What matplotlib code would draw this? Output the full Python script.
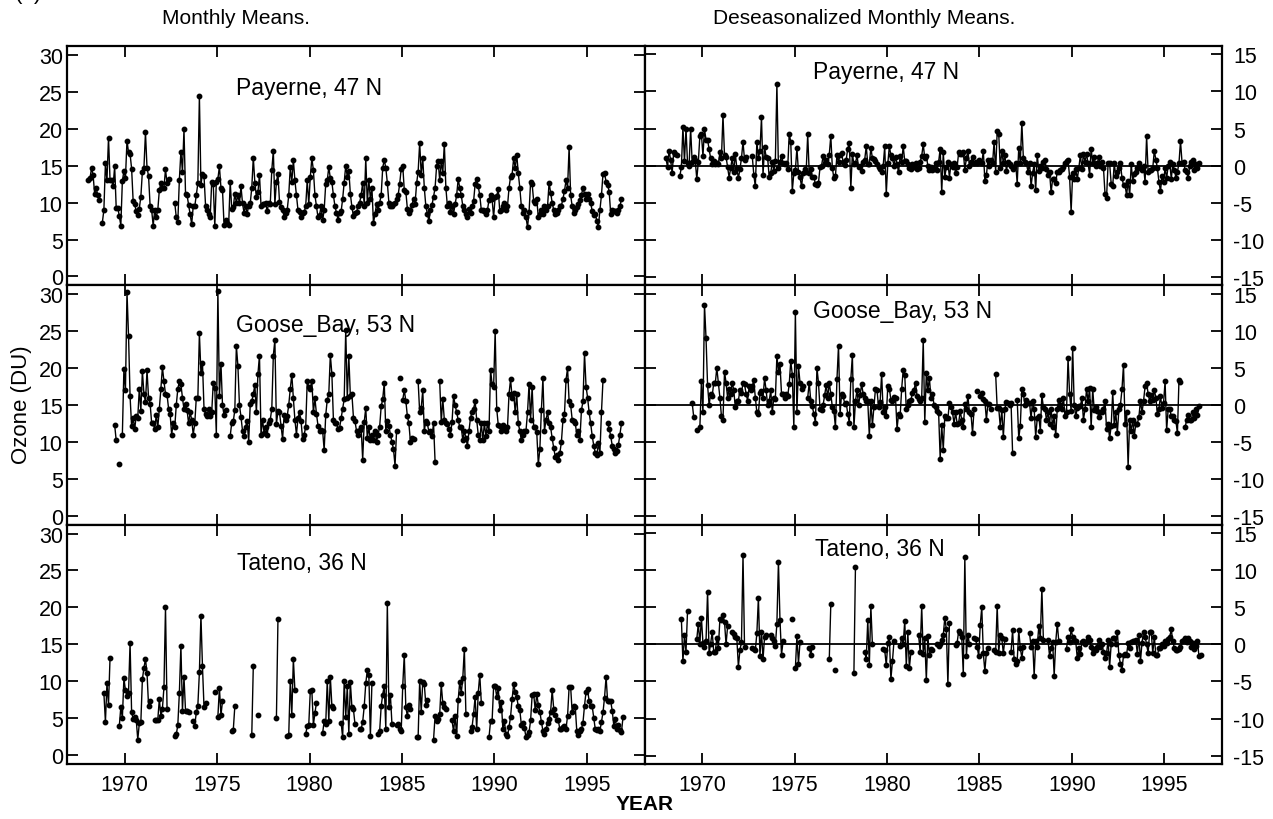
import numpy as np
import matplotlib
matplotlib.use('Agg')
import matplotlib.pyplot as plt

na = np.nan

# ---- monthly total ozone (DU), one row per year, Jan..Dec ----
payerne_first = 1968
payerne_mm = [
    [13.0, 13.3, 14.7, 13.7, 11.2, 12.0, 11.0, 10.4, na, 7.3, 9.0, 15.3],
    [13.0, 18.8, 13.0, 13.0, 12.3, 14.9, 9.3, 9.3, 8.2, 6.9, 12.9, 14.3],
    [13.3, 18.4, 16.8, 16.6, 14.6, 10.2, 9.8, 8.8, 8.3, 9.2, 10.8, 14.2],
    [14.7, 19.5, 14.7, 13.6, 9.6, 9.0, 6.9, 9.0, 8.0, 9.0, 11.7, 12.6],
    [12.0, 12.0, 14.5, 12.6, 13.2, na, na, na, 10.0, 8.0, 7.4, 13.1],
    [16.9, 14.2, 19.9, 11.2, 11.0, 9.7, 8.4, 7.1, 9.5, 9.5, 11.0, 12.6],
    [24.4, 12.4, 13.9, 13.6, 9.6, 9.0, 8.4, 8.0, 12.8, 12.5, 6.8, 12.8],
    [13.2, 14.9, 12.0, 11.7, 7.0, 7.6, 7.3, 7.0, 12.8, 9.2, 9.4, 11.2],
    [10.0, 11.0, 9.9, 12.2, 9.9, 8.6, 9.6, 8.5, 9.6, 9.9, 12.0, 16.1],
    [12.7, 10.8, 11.4, 13.8, 9.6, 9.8, 9.8, 10.0, 8.8, 10.0, 9.8, 14.4],
    [17.0, 9.8, 12.8, 13.9, 10.1, 9.4, 9.0, 8.1, 8.6, 9.0, 11.0, 14.8],
    [12.8, 15.8, 13.0, 11.0, 9.0, 8.7, 8.0, 8.6, 8.7, 9.5, 13.0, 9.8],
    [13.5, 16.0, 14.4, 11.0, 9.5, 8.0, 8.3, 9.5, 7.6, 9.0, 12.5, 13.0],
    [14.8, 13.3, 12.8, 11.0, 9.5, 8.6, 7.7, 8.6, 8.8, 10.5, 12.7, 15.0],
    [13.5, 14.3, 11.2, 9.4, 8.2, 8.6, 8.7, 9.5, 10.0, 11.0, 12.7, 9.6],
    [16.0, 10.0, 13.0, 10.5, 12.0, 7.2, 8.5, 9.8, 9.0, 10.0, 11.0, 14.7],
    [15.8, 14.7, 12.7, 10.0, 9.5, 9.6, 9.8, 9.9, 10.5, 11.0, 12.5, 14.6],
    [15.0, 11.7, 11.5, 9.2, 8.6, 9.0, 9.7, 10.5, 9.8, 12.6, 14.2, 18.1],
    [13.8, 16.0, 12.0, 9.5, 8.5, 7.5, 9.0, 9.7, 10.8, 12.0, 15.0, 15.6],
    [13.0, 15.6, 14.0, 18.0, 12.0, 9.5, 10.0, 8.7, 9.6, 8.5, 9.8, 11.0],
    [13.2, 12.0, 11.0, 9.5, 9.0, 8.5, 8.0, 9.1, 8.6, 9.5, 10.2, 12.5],
    [13.2, 12.2, 11.0, 9.0, 9.0, 8.9, 8.5, 9.0, 10.4, 11.0, 10.5, 8.0],
    [10.8, 10.9, 11.8, 8.8, 9.0, 9.6, 10.0, 9.0, 9.5, 12.0, 13.5, 13.8],
    [16.0, 14.7, 16.5, 14.0, 12.0, 9.5, 8.6, 9.0, 8.0, 6.7, 8.7, 12.8],
    [12.5, 10.2, 9.9, 10.5, 8.0, 8.5, 9.0, 8.5, 9.6, 9.0, 9.5, 12.7],
    [11.3, 10.0, 9.0, 8.5, 8.6, 9.0, 9.5, 9.6, 10.5, 11.6, 13.0, 12.0],
    [17.5, 11.0, 9.5, 8.6, 9.0, 9.4, 9.8, 10.4, 11.0, 12.0, 11.2, 10.5],
    [11.2, 10.5, 10.0, 8.8, 8.3, 8.5, 7.5, 6.7, 9.0, 11.0, 13.9, 14.0],
    [12.8, 12.4, 11.5, 8.5, 9.0, 8.8, 8.8, 8.6, 9.0, 9.5, 10.5, na],
]
payerne_ds = [
    [1.0, -0.2, 2.0, 0.8, -1.0, 1.8, 1.6, 1.5, na, -1.4, -0.2, 5.2],
    [0.6, 5.0, 0.3, 0.0, 5.0, 0.5, 1.2, 0.7, -1.8, 0.5, 4.0, 4.3],
    [1.3, 4.9, 3.5, 3.5, 2.2, 1.0, 0.2, 0.6, 0.2, 0.4, 0.2, 1.8],
    [1.0, 6.8, 1.4, 1.2, -0.2, -1.6, -0.3, 1.0, -0.8, 1.6, -0.3, -1.7],
    [-0.5, 1.0, 3.2, 0.8, 1.2, na, na, na, 1.3, -1.2, -2.8, 3.2],
    [1.0, 2.0, 6.5, -1.2, 2.5, 1.2, 1.0, -1.5, -1.0, 0.5, -0.7, 0.6],
    [11.0, -0.3, 0.5, 1.3, 0.3, 0.2, 0.4, -0.4, 4.3, 3.2, -3.4, -1.0],
    [-0.6, 2.4, -0.9, -1.5, -2.8, -1.0, -0.5, -0.8, 4.2, -1.0, -0.5, -1.5],
    [-1.5, -2.5, -2.6, -2.3, -0.2, 0.0, 1.3, 0.3, 0.8, 0.2, 1.5, 4.0],
    [-0.3, -1.7, -1.4, 1.5, 0.5, 1.5, 1.7, 0.5, 0.1, 0.8, 2.3, 3.0],
    [-3.0, 1.6, 0.2, 0.3, 1.4, -0.2, 0.0, -0.7, 0.5, 0.8, 2.6, 0.2],
    [0.2, 2.4, 1.0, 0.9, 0.6, 0.2, -0.2, -0.4, -0.8, 0.0, 2.6, -3.8],
    [0.3, 2.6, 1.4, 1.0, 0.0, 1.2, 0.2, -0.9, 1.3, 0.5, 2.6, 0.6],
    [0.6, 0.2, -0.3, -0.5, 0.2, -0.2, 0.3, -0.5, -0.3, 0.5, 1.3, 2.9],
    [1.0, 1.3, 0.0, -0.6, -0.2, -0.6, -0.4, 0.4, -0.6, 0.5, 2.3, -3.6],
    [1.8, -1.5, -0.2, 0.5, -1.6, 0.2, -0.2, 0.3, -1.0, -0.2, 1.8, 1.6],
    [1.6, 1.9, -0.6, 1.0, 2.0, 0.0, 0.5, 1.2, 0.3, 0.5, 0.3, 0.8],
    [0.5, 0.3, 2.0, -2.0, -1.3, 0.8, 0.0, 0.8, 0.3, 3.2, -0.8, 4.6],
    [4.3, -0.3, 2.0, 0.3, 1.5, -0.7, 0.5, 0.2, 0.0, -0.5, -0.2, 0.3],
    [-2.4, 2.4, 0.4, 5.8, 1.0, 0.5, 0.3, -0.8, 0.4, -2.8, -1.0, 0.2],
    [-3.3, 1.5, -0.7, 0.0, -0.3, 0.5, 0.7, -0.5, -1.3, -0.8, -3.6, -1.8],
    [-1.8, -2.3, -0.8, -0.8, -0.6, -0.4, -0.2, 0.3, 0.6, 0.8, -1.5, -6.2],
    [-1.0, -1.8, -0.5, -1.8, -0.3, 1.4, -0.4, 1.6, 0.5, 1.6, 0.3, -1.2],
    [2.3, 0.3, 1.2, 0.0, 0.3, 1.2, 0.0, 0.5, -0.3, -3.8, -4.3, 0.3],
    [0.3, -2.4, -2.7, 0.3, -1.4, -0.8, -0.3, 0.3, -1.6, -2.6, -2.6, -4.0],
    [-2.0, -4.0, 0.2, -2.0, -1.1, -0.8, -0.3, 0.3, -0.3, -0.6, 0.0, -2.2],
    [4.0, -0.9, -0.6, -0.6, -0.3, 2.0, 0.8, -0.3, -2.2, -3.4, -1.4, -2.2],
    [-0.3, -1.7, 0.0, 0.5, -1.8, 0.2, -0.6, -1.6, -0.8, 0.3, 3.3, 0.4],
    [0.5, -0.6, -0.8, -1.6, 0.0, 0.5, 0.8, -0.6, 0.2, -0.3, 0.4, na],
]

goose_first = 1969
goose_mm = [
    [na, na, na, na, na, 12.3, 10.2, na, 7.0, na, 11.0, 19.9],
    [17.0, 30.3, 24.4, 16.2, 12.1, 13.2, 11.8, 13.5, 13.3, 17.2, 14.2, 19.6],
    [16.5, 15.4, 19.7, 16.0, 15.2, 12.6, 12.5, 11.8, 13.6, 12.0, 14.5, 17.2],
    [20.1, 18.2, 16.5, 16.4, 14.5, 13.8, 11.0, 12.5, 12.0, 15.0, 17.2, 18.2],
    [17.8, 16.0, 14.4, 15.2, 14.3, 12.5, 14.0, 13.0, 11.0, 12.5, 16.0, 15.9],
    [24.7, 19.3, 20.7, 14.5, 13.8, 13.5, 14.5, 13.5, 14.0, 18.0, 17.3, 11.0],
    [30.5, 16.2, 20.6, 15.0, 13.6, 14.3, na, na, 10.8, 12.6, 12.8, 14.3],
    [23.0, 20.3, 15.0, 13.4, 11.5, 10.8, 12.0, 12.9, 10.0, 15.1, 15.5, 16.5],
    [17.7, 14.0, 19.2, 21.7, 11.0, 13.0, 11.2, 12.0, 11.0, 12.5, 13.0, 14.5],
    [21.7, 23.8, 12.4, 14.2, 14.0, 12.2, 10.4, 13.6, 13.0, 13.5, 15.0, 17.2],
    [19.1, 15.9, 13.0, 11.0, 13.2, 14.0, 12.8, 10.4, 11.0, 12.0, 18.2, 17.5],
    [17.2, 18.3, 14.0, 15.9, 13.8, 12.2, 11.5, 11.6, 11.5, 8.9, 13.6, 15.7],
    [16.5, 21.8, 19.2, 13.0, 12.5, 12.5, 11.8, 11.9, 13.2, 14.5, 15.8, 25.2],
    [16.0, 21.6, 16.2, 16.5, 13.3, 12.8, 11.5, 11.0, 11.6, 12.0, 7.6, 12.7],
    [14.6, 10.5, 12.0, 10.2, 11.0, 10.3, 11.5, 10.0, 11.0, 12.0, 14.8, 15.8],
    [18.0, 11.5, 12.8, 12.2, 11.0, 10.0, 9.0, 6.8, 11.5, na, 18.7, na],
    [15.7, 17.0, 15.6, 13.5, 12.5, 10.0, 10.5, 10.4, na, na, 18.2, 14.0],
    [14.6, 17.0, 11.5, 12.8, 12.5, 11.3, 11.5, 10.8, 12.5, 7.3, na, na],
    [18.2, 12.7, 15.8, 13.0, 12.5, 12.4, 11.8, 11.0, 12.7, 16.2, 15.0, 14.0],
    [13.0, 12.0, 12.0, 10.2, 11.5, 10.5, 9.5, 11.5, 13.3, 14.0, 14.5, 15.5],
    [13.0, 11.0, 10.3, 12.5, 10.3, 12.5, 10.8, 12.5, 11.5, 19.8, 17.8, 17.5],
    [25.0, 14.5, 12.3, 12.2, 11.5, 12.3, 11.8, 11.5, 12.0, 16.5, 18.5, 16.0],
    [16.6, 14.0, 16.5, 12.5, 11.5, 10.2, 11.0, 11.5, 11.5, 14.0, 17.8, 13.0],
    [17.5, 12.0, 12.0, 11.3, 7.0, 9.0, 14.3, 18.6, 11.5, 13.0, 14.0, 12.5],
    [12.0, 10.5, 9.2, 8.0, 8.2, 7.6, 8.5, 10.0, 13.0, 13.8, 18.4, 20.0],
    [15.5, 15.0, 13.0, 12.8, 12.5, 11.0, 11.5, 10.3, 14.3, 15.5, 22.0, 17.5],
    [16.0, 14.0, 12.5, 10.8, 9.5, 8.5, 8.2, 9.8, 8.5, 14.0, 18.4, na],
    [na, 12.6, 11.8, 10.8, 9.5, 9.0, 8.5, 8.8, 9.6, 11.0, 12.5, na],
]
goose_ds = [
    [na, na, na, na, na, 0.3, -1.6, na, -3.4, na, -3.0, 3.2],
    [-1.0, 13.5, 9.0, 2.7, 0.0, 1.5, 1.2, 3.0, 2.9, 5.0, 3.0, 1.0],
    [-1.5, -2.0, 4.5, 3.0, 1.0, 2.2, 1.5, 3.0, 2.0, -0.3, 0.5, 0.6],
    [2.0, 1.6, 3.0, 2.8, 1.5, 0.6, 2.5, 2.0, 2.5, 3.3, 1.0, -1.0],
    [-1.2, 1.6, 1.9, 1.0, 3.6, 2.0, 0.0, 0.5, 2.0, -1.0, 1.0, 0.8],
    [6.6, 4.5, 5.5, 1.5, 1.5, 1.0, 1.5, 1.2, 2.8, 5.9, 4.1, -3.0],
    [12.5, -1.0, 5.3, 3.0, 2.2, 2.6, na, na, 1.0, 3.0, 0.5, -0.2],
    [-1.2, -2.4, 5.0, 3.0, -0.5, -0.7, 0.0, 1.3, 2.7, 1.0, 3.0, 1.5],
    [-0.3, -0.8, -3.0, 3.5, 8.0, -1.2, 1.5, 1.2, 0.2, 0.3, -1.2, -2.4],
    [3.5, 6.7, -3.0, 0.5, 2.0, 0.0, 1.3, 2.8, 1.5, 1.0, 0.6, 0.5],
    [-4.2, 0.5, -2.7, -0.3, 2.2, 2.0, -0.3, 0.4, 4.2, -1.0, -0.3, -1.5],
    [2.5, 2.2, 0.7, 0.5, 1.1, 1.0, -3.2, -1.2, -1.5, 2.2, 4.7, 4.0],
    [-0.6, 0.0, 0.5, 0.7, 1.6, 2.0, 3.0, 1.2, 0.8, 0.5, 1.0, 8.7],
    [-2.3, 4.3, 2.0, 3.6, 1.0, 1.5, 0.0, -0.3, -0.8, -1.1, -7.2, -2.7],
    [-6.0, -1.5, -1.8, -1.8, 0.3, -0.3, -1.0, -2.5, -1.0, -2.5, -2.4, -0.8],
    [-2.0, -3.0, 0.1, -0.5, 1.2, -1.0, -1.2, -3.8, -0.5, na, 1.9, na],
    [1.2, 1.6, 0.8, 0.6, -2.0, 0.2, 0.2, -0.5, na, na, 4.2, -0.4],
    [-0.4, -2.9, -0.7, -4.3, -0.5, 0.4, 0.3, 0.0, 0.3, -6.4, na, na],
    [0.7, -4.5, -2.8, 2.2, 1.5, 0.0, 0.7, 0.3, 0.3, -1.8, 0.5, -0.5],
    [-4.3, -1.8, -1.5, -3.5, 1.3, -0.3, -0.5, -2.0, -1.0, -2.5, -0.5, -3.0],
    [-1.5, -4.1, -0.5, 0.7, 0.0, -0.5, 1.0, -1.5, -1.0, 6.3, 1.5, -0.8],
    [7.7, 0.0, -1.5, -0.4, -0.2, -0.2, 1.0, -2.0, -0.6, 2.2, 0.5, 2.3],
    [-3.0, 2.2, -0.7, -0.3, -0.8, -1.6, -1.0, -1.0, -0.5, 0.5, -3.2, -2.5],
    [-4.5, -2.8, 1.7, -2.7, -1.0, -3.8, -0.6, 0.0, 2.1, 5.4, -2.5, -1.0],
    [-8.3, -2.0, -3.5, -2.0, -4.2, -2.5, -2.5, -1.6, 0.6, -1.0, 0.5, 2.5],
    [3.0, 1.5, 0.5, 1.3, 0.7, 2.0, 1.0, -1.2, -0.5, 1.2, -0.4, 0.3],
    [3.2, -3.4, -0.5, -0.5, -1.5, -1.5, -2.0, -2.1, -3.8, 3.3, 3.1, na],
    [na, -3.0, -2.0, -1.3, -2.0, -2.0, -1.0, -1.8, -0.5, -1.4, -0.2, na],
]

tateno_first = 1968
tateno_mm = [
    [na, na, na, na, na, na, na, na, na, na, 8.4, 4.5],
    [9.7, 6.8, 13.2, na, na, na, na, na, 3.9, 6.5, 5.0, 10.4],
    [8.8, 8.0, 8.4, 15.2, 5.8, 4.9, 5.1, 4.8, 2.1, 4.3, 4.5, 10.3],
    [11.8, 13.0, 11.1, 6.7, 7.3, na, na, 4.8, 4.7, 4.8, 7.6, 5.3],
    [6.3, 9.2, 20.0, 6.3, na, na, na, na, 2.6, 2.8, 4.1, 8.4],
    [14.8, 6.0, 10.6, 6.0, 6.0, 5.9, na, na, 4.6, 4.0, 5.8, 6.7],
    [11.2, 18.9, 12.0, 6.5, 7.1, na, na, na, na, na, 8.5, na],
    [5.2, 9.1, 5.4, 7.3, na, na, na, na, na, 3.3, 3.4, 6.6],
    [na, na, na, na, na, na, na, na, na, na, 2.7, 12.1],
    [na, na, 5.4, na, na, na, na, na, na, na, na, na],
    [na, na, 5.0, 18.4, na, na, na, na, na, 2.6, 2.7, 10.1],
    [5.5, 13.0, 8.8, na, na, na, na, na, na, 2.8, 4.0, 4.1],
    [8.7, 8.8, 4.1, 5.7, 7.1, na, na, na, 3.0, 4.6, 4.2, 10.0],
    [4.6, 10.6, 6.7, 6.4, na, na, na, na, 4.4, 2.4, 10.0, 5.2],
    [9.3, 2.9, 9.9, 6.5, 6.2, 4.2, na, na, 3.5, 3.5, 4.5, 6.6],
    [9.7, 11.5, 10.8, 2.6, 9.8, na, na, na, 2.8, 3.2, 6.6, 8.2],
    [9.4, 3.6, 20.6, 6.5, 8.1, 4.2, na, na, 4.1, 4.2, 3.6, 3.2],
    [9.4, 13.6, 6.5, 5.3, 6.8, 6.3, na, na, na, 2.4, 2.5, 10.1],
    [5.8, 9.9, 9.6, 6.8, 7.5, na, na, na, 2.1, 5.3, 4.6, 4.9],
    [5.6, 9.6, 7.0, 6.5, 6.2, na, na, na, 4.7, 3.2, 5.3, 2.6],
    [7.5, 9.9, 8.4, 10.5, 14.4, 5.6, na, na, 3.2, 3.8, 5.6, 7.9],
    [3.5, 8.4, 10.9, 7.1, na, na, na, na, 2.4, 4.6, 4.6, 9.3],
    [9.4, 7.9, 9.1, 6.1, 7.2, 3.5, 4.6, 2.8, 2.6, 3.8, 5.2, 7.6],
    [9.6, 8.6, 7.9, 6.6, 6.1, 4.1, 4.3, 3.7, 2.4, 2.7, 3.1, 4.7],
    [8.1, 8.3, 6.1, 8.3, 6.8, 5.9, 4.5, 3.3, 2.8, 3.5, 4.3, 4.9],
    [5.9, 8.8, 6.3, 5.5, 4.8, 4.7, 3.5, 3.5, 3.8, 4.0, 3.6, 5.3],
    [9.2, 9.2, 5.8, 6.6, 6.5, 3.2, 2.7, 3.2, 3.5, 4.4, 6.7, 8.6],
    [8.9, 7.3, 6.6, 6.6, 5.0, 3.5, 3.4, 3.5, 3.3, 4.5, 5.8, 7.8],
    [10.6, 7.3, 7.3, 7.3, 6.0, 4.0, 4.9, 3.5, 4.1, 3.4, 3.1, 5.2],
]
tateno_ds = [
    [na, na, na, na, na, na, na, na, na, na, 3.4, -2.3],
    [1.2, -1.0, 4.5, na, na, na, na, na, 0.7, 2.8, 0.1, 3.6],
    [0.2, -0.4, 0.5, 7.1, -1.2, 0.1, 1.7, -1.0, -1.0, 0.9, -0.5, 3.4],
    [3.3, 4.0, 3.0, 0.0, 2.4, na, na, 1.7, 1.4, 1.0, 0.8, -3.0],
    [-0.8, 0.3, 12.0, -0.4, na, na, na, na, -0.5, -0.6, -0.8, 1.5],
    [6.3, -1.6, 1.7, -2.0, 1.0, 1.2, na, na, 1.3, 0.8, 0.4, -0.2],
    [2.8, 11.1, 3.3, -1.4, 0.4, na, na, na, na, na, 3.4, na],
    [-3.2, 1.1, -2.6, 0.3, na, na, na, na, na, -0.5, -1.4, -0.3],
    [na, na, na, na, na, na, na, na, na, na, -2.0, 5.4],
    [na, na, -3.5, na, na, na, na, na, na, na, na, na],
    [na, na, -3.8, 10.4, na, na, na, na, na, -1.0, -2.0, 3.3],
    [-2.8, 5.1, 0.0, na, na, na, na, na, na, -0.6, -0.8, -2.8],
    [0.2, 1.0, -4.7, -2.3, 0.4, na, na, na, -0.2, 0.9, 0.0, 3.2],
    [-2.9, 1.6, -3.2, -1.0, na, na, na, na, 1.2, -1.0, 5.1, -1.3],
    [0.8, -4.8, 1.1, -1.5, -0.6, -0.8, na, na, 0.0, -0.2, 0.1, 0.6],
    [1.2, 3.6, 2.0, -5.4, 2.9, na, na, na, -0.1, 0.2, 1.8, 1.5],
    [1.0, -4.0, 11.8, -1.6, 1.3, 0.0, na, na, 0.8, 0.7, -0.3, -1.6],
    [2.6, 5.0, -1.2, -3.6, -1.1, -0.5, na, na, na, -0.8, -1.0, 5.2],
    [-1.1, 1.2, 0.8, -1.2, 0.7, na, na, na, -1.0, 1.9, -2.0, -2.7],
    [-2.2, 1.9, -0.5, -1.8, -0.3, na, na, na, 1.5, -0.3, 0.5, -4.2],
    [0.5, -0.3, 2.4, 0.8, 7.5, 0.6, na, na, 0.6, -1.6, -0.5, 0.3],
    [-4.2, 0.3, 2.8, 0.4, na, na, na, na, -0.6, 1.0, 0.3, 2.0],
    [1.0, 0.6, 0.4, -1.9, -0.5, -1.3, 0.3, 0.4, 0.0, 0.5, 1.0, 0.6],
    [-0.4, -1.2, -0.6, -0.8, -0.3, 0.6, -0.3, 0.0, -1.0, -1.8, -1.2, 0.6],
    [-3.0, 0.0, 0.9, 0.8, 0.0, 1.7, -1.5, -2.6, -3.4, -1.5, -1.3, -1.4],
    [0.2, -0.5, 0.3, 0.5, 0.4, 0.6, -1.3, 1.2, -2.3, 0.2, 1.7, 1.0],
    [0.0, -1.2, 1.7, 1.7, -1.2, 1.0, -1.4, -1.5, -0.5, -0.5, 0.0, -0.2],
    [0.5, 0.2, 0.7, 1.0, 2.0, 0.4, -0.5, -0.8, -0.7, -0.6, -0.4, 0.5],
    [0.6, 0.9, 0.3, 0.8, 0.5, -0.3, 0.2, -0.6, -0.2, 0.4, -1.6, -1.4],
]

stations = [
    ("Payerne, 47 N", payerne_first, payerne_mm, payerne_ds),
    ("Goose_Bay, 53 N", goose_first, goose_mm, goose_ds),
    ("Tateno, 36 N", tateno_first, tateno_mm, tateno_ds),
]

left_ticks = [0, 5, 10, 15, 20, 25, 30]
right_ticks = [-15, -10, -5, 0, 5, 10, 15]
year_ticks = [1970, 1975, 1980, 1985, 1990, 1995]


def monthly(rows, first_year):
    vals = np.array(rows, dtype=float).ravel()
    t = first_year + (np.arange(vals.size) + 0.5) / 12.0
    return t, vals


plt.rcParams['font.family'] = ['Liberation Sans', 'DejaVu Sans']
plt.rcParams['axes.unicode_minus'] = False

fig, axes = plt.subplots(3, 2, figsize=(12.73, 8.2), dpi=100)
fig.subplots_adjust(left=67 / 1273, right=1222 / 1273,
                    top=1 - 47 / 820, bottom=1 - 765 / 820,
                    hspace=0, wspace=0)

label_pos = [((0.292, 0.828), (0.291, 0.895)),
             ((0.292, 0.837), (0.291, 0.895)),
             ((0.294, 0.84), (0.295, 0.90))]

for r, (name, y0, mm, ds) in enumerate(stations):
    axl, axr = axes[r]
    t, v = monthly(mm, y0)
    axl.plot(t, v, '-o', color='k', lw=1.0, ms=3.2)
    t, v = monthly(ds, y0)
    axr.axhline(0, color='k', lw=1.3)
    axr.plot(t, v, '-o', color='k', lw=1.0, ms=3.2)

    axl.set_ylim(-1.2, 31.2)
    axl.set_yticks(left_ticks)
    axr.set_ylim(-16.1, 16.1)
    axr.set_yticks(right_ticks)

    for ax in (axl, axr):
        ax.set_xlim(1966.88, 1998.12)
        ax.set_xticks(year_ticks)
        ax.tick_params(direction='in', length=8, width=1.3,
                       top=True, bottom=True, left=True, right=True,
                       labelsize=15.5)
        ax.tick_params(axis='x', pad=7, labelbottom=(r == 2))
        for s in ax.spines.values():
            s.set_linewidth(1.6)
    axl.tick_params(axis='y', pad=3, labelleft=True, labelright=False)
    axr.tick_params(axis='y', pad=8, labelleft=False, labelright=True)

    (lx, ly), (rx, ry) = label_pos[r]
    axl.text(lx, ly, name, transform=axl.transAxes, fontsize=16.5,
             ha='left', va='center')
    axr.text(rx, ry, name, transform=axr.transAxes, fontsize=16.5,
             ha='left', va='center')

fig.text(236 / 1273, 1 - 19 / 820, "Monthly Means.", ha='center',
         va='center', fontsize=15)
fig.text(864 / 1273, 1 - 19 / 820, "Deseasonalized Monthly Means.",
         ha='center', va='center', fontsize=15)
fig.text(15 / 1273, 1 - 4 / 820, "(a)", ha='left', va='bottom', fontsize=16)
fig.text(22 / 1273, 1 - 405 / 820, "Ozone (DU)", rotation=90, ha='center',
         va='center', fontsize=16)
fig.text(645 / 1273, 1 - 805 / 820, "YEAR", ha='center', va='center',
         fontsize=15, fontweight='bold')

fig.savefig('out.png', dpi=100)
